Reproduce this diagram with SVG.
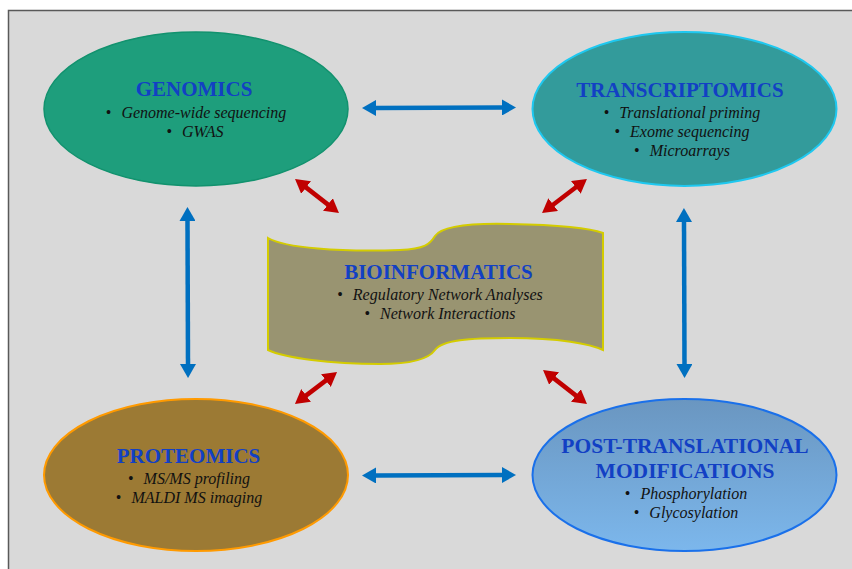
<svg xmlns="http://www.w3.org/2000/svg" width="852" height="569" viewBox="0 0 852 569">
<style>
.title{font-family:"Liberation Serif","Times New Roman",serif;font-weight:bold;font-size:21px;fill:#1240c4;text-anchor:middle}
.item{font-family:"Liberation Serif","Times New Roman",serif;font-style:italic;font-size:16px;fill:#111;text-anchor:middle}
.bul{font-style:normal}
.blue{stroke:#0070c0;stroke-width:4.5;fill:none}
.red{stroke:#c00000;stroke-width:4.5;fill:none}
</style>
<defs>
<marker id="hb" markerUnits="userSpaceOnUse" viewBox="0 0 14 16" markerWidth="14" markerHeight="16" refX="1" refY="8" orient="auto-start-reverse">
<path d="M0,0 L14,8 L0,16 Z" fill="#0070c0"/>
</marker>
<marker id="hr" markerUnits="userSpaceOnUse" viewBox="0 0 14 16" markerWidth="14" markerHeight="16" refX="1" refY="8" orient="auto-start-reverse">
<path d="M0,0 L14,8 L0,16 Z" fill="#c00000"/>
</marker>
<linearGradient id="ptmg" x1="0" y1="0" x2="0" y2="1">
<stop offset="0" stop-color="#6a96c0"/>
<stop offset="1" stop-color="#7cb7ec"/>
</linearGradient>
</defs>
<rect x="0" y="0" width="852" height="569" fill="#ffffff"/>
<rect x="8.5" y="10.5" width="860" height="580" fill="#d9d9d9" stroke="#595959" stroke-width="1.5"/>

<g id="connectors">
<line class="blue" x1="375" y1="108" x2="503" y2="107.5" marker-start="url(#hb)" marker-end="url(#hb)"/>
<line class="blue" x1="375" y1="475.5" x2="503" y2="475" marker-start="url(#hb)" marker-end="url(#hb)"/>
<line class="blue" x1="187.5" y1="220" x2="188" y2="365" marker-start="url(#hb)" marker-end="url(#hb)"/>
<line class="blue" x1="684" y1="221" x2="684.5" y2="365" marker-start="url(#hb)" marker-end="url(#hb)"/>
<line class="red" x1="305.3" y1="186.9" x2="328.7" y2="205.1" marker-start="url(#hr)" marker-end="url(#hr)"/>
<line class="red" x1="552.4" y1="205.2" x2="576.6" y2="186.8" marker-start="url(#hr)" marker-end="url(#hr)"/>
<line class="red" x1="305.3" y1="396.1" x2="326.7" y2="379.9" marker-start="url(#hr)" marker-end="url(#hr)"/>
<line class="red" x1="553.3" y1="377.9" x2="576.7" y2="396.1" marker-start="url(#hr)" marker-end="url(#hr)"/>
</g>

<g id="genomics">
<ellipse cx="196" cy="109" rx="152" ry="77" fill="#1e9e7c" stroke="#12926e" stroke-width="1.5"/>
<text class="title" x="194" y="96">GENOMICS</text>
<text class="item" x="196" y="118"><tspan class="bul">•</tspan><tspan dx="10">Genome-wide sequencing</tspan></text>
<text class="item" x="195" y="137"><tspan class="bul">•</tspan><tspan dx="10">GWAS</tspan></text>
</g>

<g id="transcriptomics">
<ellipse cx="684.5" cy="109" rx="152" ry="77" fill="#339b9b" stroke="#1ec8f0" stroke-width="2"/>
<text class="title" x="680" y="97">TRANSCRIPTOMICS</text>
<text class="item" x="682" y="118"><tspan class="bul">•</tspan><tspan dx="10">Translational priming</tspan></text>
<text class="item" x="682" y="137"><tspan class="bul">•</tspan><tspan dx="10">Exome sequencing</tspan></text>
<text class="item" x="682" y="156"><tspan class="bul">•</tspan><tspan dx="10">Microarrays</tspan></text>
</g>

<g id="bioinformatics">
<path d="M268,238 C285,248 340,252 400,250 C425,249 430,244 435,236 C442,226 470,223 510,224 C560,225 590,228 603,233 L603,350 C590,344 560,338 510,338 C470,338 442,340 435,350 C428,360 410,364 380,364 C330,364 285,358 268,350 Z" fill="#999471" stroke="#d4cc00" stroke-width="2"/>
<text class="title" x="438.5" y="279">BIOINFORMATICS</text>
<text class="item" x="440" y="300"><tspan class="bul">•</tspan><tspan dx="10">Regulatory Network Analyses</tspan></text>
<text class="item" x="440" y="319"><tspan class="bul">•</tspan><tspan dx="10">Network Interactions</tspan></text>
</g>

<g id="proteomics">
<ellipse cx="196" cy="475" rx="152" ry="76" fill="#9c7a34" stroke="#ff9a00" stroke-width="2"/>
<text class="title" x="188.5" y="463">PROTEOMICS</text>
<text class="item" x="189" y="484"><tspan class="bul">•</tspan><tspan dx="10">MS/MS profiling</tspan></text>
<text class="item" x="189" y="503"><tspan class="bul">•</tspan><tspan dx="10">MALDI MS imaging</tspan></text>
</g>

<g id="ptm">
<ellipse cx="684.5" cy="475" rx="152" ry="76" fill="url(#ptmg)" stroke="#1a70ea" stroke-width="2"/>
<text class="title" x="685" y="453" style="font-size:21.5px">POST-TRANSLATIONAL</text>
<text class="title" x="685" y="478" style="font-size:21.5px">MODIFICATIONS</text>
<text class="item" x="686" y="499"><tspan class="bul">•</tspan><tspan dx="10">Phosphorylation</tspan></text>
<text class="item" x="686" y="518"><tspan class="bul">•</tspan><tspan dx="10">Glycosylation</tspan></text>
</g>
</svg>
